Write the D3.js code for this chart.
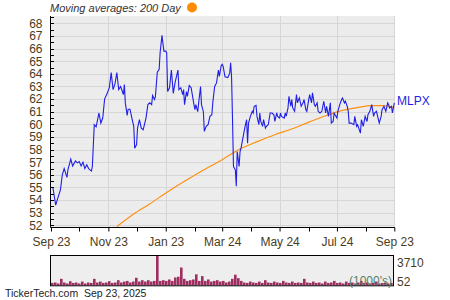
<!DOCTYPE html>
<html>
<head>
<meta charset="utf-8">
<script src="https://cdn.jsdelivr.net/npm/d3@7"></script>
<style>
  body { margin: 0; background: #fff; }
  svg { display: block; font-family: "Liberation Sans", Arial, sans-serif; }
</style>
</head>
<body>
<div id="screen"></div>
<script>
var startDate = new Date(2024, 8, 23);
var endDate = new Date(2025, 8, 23);

// [days after Sep 23 2024, close]
var priceDays = [0,2,5,7,10,12,14,17,18,21,23,26,28,30,32,34,36,38,40,43,44,46,48,51,53,55,57,60,62,64,66,68,70,72,74,77,78,79,81,82,84,86,88,89,91,92,94,96,98,101,103,105,107,108,110,111,113,115,116,118,120,122,123,124,126,128,130,132,135,136,138,140,141,142,144,145,147,149,152,153,154,156,157,159,160,162,163,165,167,169,171,172,174,176,178,179,181,182,183,185,188,190,191,192,193,194,196,197,198,200,201,202,205,206,208,209,210,212,214,215,216,218,219,221,222,223,225,226,228,229,231,233,235,237,238,240,241,243,244,245,248,249,250,252,253,255,256,257,259,261,262,264,266,268,269,271,272,274,275,277,278,280,281,283,284,286,288,290,292,293,295,297,298,300,301,302,304,305,307,309,310,312,313,315,316,317,319,322,323,325,326,329,330,332,334,336,337,339,341,343,344,346,349,351,352,354,356,358,359,360,362,363,365];
var priceValues = [55.0,55.0,53.6,54.1,54.8,56.0,56.5,55.8,56.4,57.25,56.7,57.1,56.95,57.05,56.7,57.0,56.5,56.8,56.5,56.3,56.7,59.97,59.8,60.9,60.1,60.5,62.0,62.5,62.9,64.1,62.75,63.2,64.1,62.75,63.0,62.36,63.15,61.7,60.7,61.2,61.2,60.5,59.84,58.1,58.4,59.7,60.37,59.7,59.57,60.5,61.56,61.7,61.56,62.28,61.96,62.2,64.13,64.35,65.67,67.05,65.8,65.8,65.67,62.6,62.9,64.3,62.45,63.35,64.3,62.75,62.9,62.36,62.75,61.56,62.6,62.22,63.07,62.9,61.56,61.16,61.56,61.0,61.7,63.0,61.56,61.0,59.44,59.84,59.97,60.63,60.76,61.7,63.0,63.28,64.29,63.8,64.66,64.75,64.6,63.76,63.7,64.05,64.87,63.7,60.37,56.66,56.4,55.1,57.85,56.66,57.85,58.1,59.3,59.7,60.37,58.5,60.1,60.63,61.03,60.9,61.43,61.5,60.63,59.97,60.9,60.23,59.84,60.37,59.7,59.84,59.97,60.9,60.9,60.76,60.23,60.9,60.63,60.5,60.9,60.63,60.5,60.9,60.63,61.3,62.22,61.43,61.96,61.3,61.03,62.36,61.7,62.1,61.43,61.7,61.96,61.16,61.03,61.96,62.36,61.7,62.49,61.56,61.43,61.7,61.03,60.9,61.03,61.83,60.9,61.43,60.63,61.7,60.1,60.23,60.9,60.76,60.5,61.03,61.56,61.96,62.09,61.7,61.83,61.43,61.03,60.1,60.1,59.97,60.63,59.84,59.97,59.3,60.37,59.84,60.63,60.23,60.76,61.03,61.56,60.63,60.9,61.03,60.1,60.63,61.16,61.43,61.03,61.7,61.56,61.3,61.43,60.9,61.7];

// 200 day moving average
var maDays = [70,88,105,123,141,159,182,201,220,238,256,275,293,310,327,341,353,365];
var maValues = [51.9,52.9,53.7,54.6,55.45,56.25,57.2,58.05,58.65,59.18,59.63,60.2,60.7,61.1,61.35,61.48,61.48,61.32];

// volume in 1000's, evenly spread over the year
var volumes = [350,400,280,860,400,280,560,350,400,280,520,280,400,350,860,400,520,350,400,560,350,400,690,400,520,600,400,520,990,520,690,520,690,520,600,3710,600,690,600,780,600,1030,1120,2270,860,600,690,780,1420,600,1200,600,780,520,600,690,520,600,400,520,860,1380,950,600,400,350,520,400,350,520,350,690,400,350,520,400,350,600,400,350,520,350,400,350,860,400,350,520,350,400,280,520,350,400,600,350,400,280,520,350,400,280,400,600,350,400,280,350,520,280,350,400,280,350];

var xTickDates = [new Date(2024, 8, 23), new Date(2024, 10, 23), new Date(2025, 0, 23), new Date(2025, 2, 24), new Date(2025, 4, 24), new Date(2025, 6, 24), new Date(2025, 8, 23)];
var xTickLabels = ["Sep 23", "Nov 23", "Jan 23", "Mar 24", "May 24", "Jul 24", "Sep 23"];
var xMinorDates = [new Date(2024, 9, 23), new Date(2024, 11, 23), new Date(2025, 1, 23), new Date(2025, 3, 24), new Date(2025, 5, 24), new Date(2025, 7, 24)];
var yTicks = d3.range(52, 69, 1);
var volumeLabels = [3710, 52];

var width = 450, height = 300;
var plotLeft = 51, plotRight = 394.3, plotTop = 16, plotBottom = 227;
var volTop = 256, volBottom = 285.3, volRight = 393;
var textColour = "#4a3c1c";

var svg = d3.select("#screen").append("svg").attr("width", width).attr("height", height);

var x = d3.scaleTime().domain([startDate, endDate]).range([plotLeft, plotRight]);
var y = d3.scaleLinear().domain([51.87, 68.58]).range([plotBottom, plotTop]);

var dayDate = function(d) { return d3.timeDay.offset(startDate, d); };

// plot background + grid
svg.append("rect").attr("x", plotLeft).attr("y", plotTop).attr("width", plotRight - plotLeft).attr("height", plotBottom - plotTop).attr("fill", "#ececec");

svg.append("g").selectAll("line").data(yTicks).join("line")
    .attr("x1", plotLeft).attr("x2", plotRight)
    .attr("y1", d => Math.round(y(d)) + 0.5).attr("y2", d => Math.round(y(d)) + 0.5)
    .attr("stroke", "#d6d6d6");

svg.append("g").selectAll("line").data(xTickDates.slice(1)).join("line")
    .attr("x1", d => Math.round(x(d)) + 0.5).attr("x2", d => Math.round(x(d)) + 0.5)
    .attr("y1", plotTop).attr("y2", plotBottom)
    .attr("stroke", "#d6d6d6");

svg.append("clipPath").attr("id", "plotClip").append("rect")
    .attr("x", plotLeft).attr("y", plotTop).attr("width", plotRight - plotLeft + 2).attr("height", plotBottom - plotTop);

var plot = svg.append("g").attr("clip-path", "url(#plotClip)");

var priceLine = d3.line()
    .x((d, i) => x(dayDate(priceDays[i])))
    .y(d => y(d));

var maLine = d3.line()
    .x((d, i) => x(dayDate(maDays[i])))
    .y(d => y(d))
    .curve(d3.curveMonotoneX);

plot.append("path").attr("d", maLine(maValues))
    .attr("fill", "none").attr("stroke", "#ff9010").attr("stroke-width", 1.2);

plot.append("path").attr("d", priceLine(priceValues))
    .attr("fill", "none").attr("stroke", "#1f1fe6").attr("stroke-width", 1.1);

// axes
var yAxis = svg.append("g").attr("transform", "translate(" + (plotLeft - 0.5) + ",0)")
    .call(d3.axisLeft(y).tickValues(yTicks).tickFormat(d3.format("d")).tickSize(0).tickPadding(8));
yAxis.select(".domain").attr("stroke", "#000").attr("d", "M0," + plotTop + "V" + (plotBottom + 0.5));
yAxis.selectAll("text").attr("fill", textColour).style("font-size", "12px").attr("font-family", null);

svg.append("g").selectAll("line").data(d3.range(52, 68.6, 0.5)).join("line")
    .attr("x1", plotLeft).attr("x2", plotLeft + 3)
    .attr("y1", d => Math.round(y(d)) + 0.5).attr("y2", d => Math.round(y(d)) + 0.5)
    .attr("stroke", "#000");

var xAxis = svg.append("g").attr("transform", "translate(0," + (plotBottom + 0.5) + ")")
    .call(d3.axisBottom(x).tickValues(xTickDates).tickFormat((d, i) => xTickLabels[i]).tickSize(4).tickPadding(6));
xAxis.select(".domain").attr("stroke", "#000").attr("d", "M" + (plotLeft - 0.5) + ",0H" + (plotRight + 0.5));
xAxis.selectAll("line").attr("stroke", "#000");
xAxis.selectAll("text").attr("fill", textColour).style("font-size", "12px").attr("font-family", null);

svg.append("g").attr("transform", "translate(0," + (plotBottom + 0.5) + ")")
    .selectAll("line").data(xMinorDates).join("line")
    .attr("x1", d => Math.round(x(d)) + 0.5).attr("x2", d => Math.round(x(d)) + 0.5)
    .attr("y1", 0).attr("y2", 4).attr("stroke", "#000");

// legend
svg.append("text").attr("x", 50).attr("y", 11.5)
    .style("font-size", "11px").style("font-style", "italic").attr("fill", "#333")
    .text("Moving averages: 200 Day");
svg.append("circle").attr("cx", 192).attr("cy", 7.5).attr("r", 5).attr("fill", "#ff8c00");

svg.append("text").attr("x", 397).attr("y", y(priceValues[priceValues.length - 1]) + 2.5)
    .style("font-size", "12px").attr("fill", "#1f1fe6").text("MLPX");

// volume panel
var v = d3.scaleLinear().domain([52, 3710]).range([volBottom, volTop]);
var vx = d3.scaleLinear().domain([0, volumes.length]).range([plotLeft, volRight]);

svg.append("rect").attr("x", plotLeft - 0.5).attr("y", volTop - 0.5).attr("width", volRight - plotLeft + 1).attr("height", volBottom - volTop + 1)
    .attr("fill", "#eeeeee");

svg.append("g").selectAll("rect").data(volumes).join("rect")
    .attr("x", (d, i) => vx(i))
    .attr("width", (d, i) => vx(i + 1) - vx(i) - 0.4)
    .attr("y", d => v(d))
    .attr("height", d => volBottom - v(d))
    .attr("fill", "#9e2f60");

svg.append("rect").attr("x", plotLeft - 0.5).attr("y", volTop - 0.5).attr("width", volRight - plotLeft + 1).attr("height", volBottom - volTop + 1)
    .attr("fill", "none").attr("stroke", "#000");

svg.append("text").attr("x", volRight - 1).attr("y", volBottom - 0.5).attr("text-anchor", "end")
    .style("font-size", "12px").attr("fill", "#55806a").text("(1000's)");

svg.append("g").selectAll("text").data(volumeLabels).join("text")
    .attr("x", 397).attr("y", (d, i) => i === 0 ? 267 : 286)
    .style("font-size", "12px").attr("fill", textColour).text(d => d);

svg.append("text").attr("x", 5).attr("y", 297)
    .style("font-size", "10.5px").attr("fill", "#222").attr("xml:space", "preserve")
    .text("TickerTech.com  Sep 23, 2025");
</script>
</body>
</html>
